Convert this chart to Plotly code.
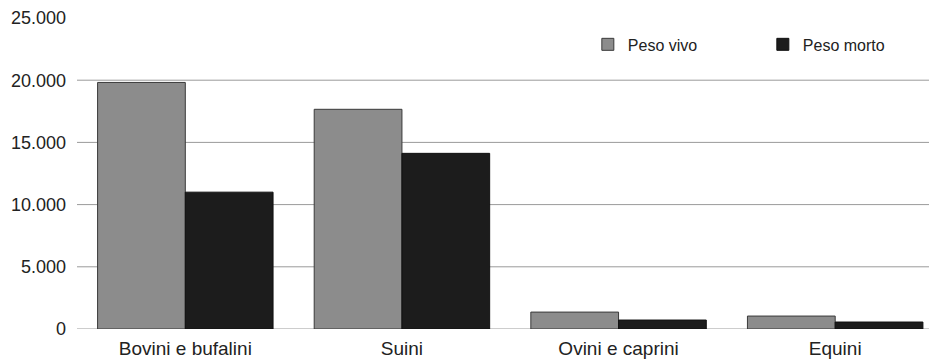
import plotly.graph_objects as go

categories = ["Bovini e bufalini", "Suini", "Ovini e caprini", "Equini"]
peso_vivo = [19820, 17660, 1360, 1040]
peso_morto = [11000, 14120, 720, 560]
grid_vals = [0, 5000, 10000, 15000, 20000]
tick_vals = [0, 5000, 10000, 15000, 20000, 25000]

fig = go.Figure()
fig.add_trace(go.Bar(x=categories, y=peso_vivo, name="Peso vivo",
                     marker=dict(color="#8c8c8c", line=dict(color="#3a3a3a", width=1))))
fig.add_trace(go.Bar(x=categories, y=peso_morto, name="Peso morto",
                     marker=dict(color="#1c1c1c", line=dict(color="#111111", width=1))))

# gridlines only up to 20.000, like the original
for v in grid_vals:
    fig.add_shape(type="line", xref="paper", x0=0, x1=1, yref="y", y0=v, y1=v,
                  line=dict(color="#9a9a9a", width=1), layer="below")

fig.update_layout(
    width=929, height=351,
    margin=dict(l=69, r=0, t=10, b=30, autoexpand=False),
    paper_bgcolor="white", plot_bgcolor="white",
    barmode="group", bargap=0.19, bargroupgap=0,
    separators=",.",
    font=dict(family="Liberation Sans, Arial, sans-serif", color="#222222"),
    showlegend=True,
    legend=dict(orientation="h", x=0.594, y=0.915, xanchor="left", yanchor="middle",
                font=dict(size=16), itemwidth=30, entrywidth=130, bgcolor="rgba(0,0,0,0)"),
    xaxis=dict(range=[-0.5, 3.47], showgrid=False, showline=False, ticks="",
               ticklabelstandoff=6, tickfont=dict(size=19)),
    yaxis=dict(range=[0, 25000], tickvals=tick_vals, tickformat=",d", showgrid=False,
               zeroline=False, showline=False, ticks="", ticklabelstandoff=10,
               tickfont=dict(size=18)),
)

fig.write_html("out.html")
